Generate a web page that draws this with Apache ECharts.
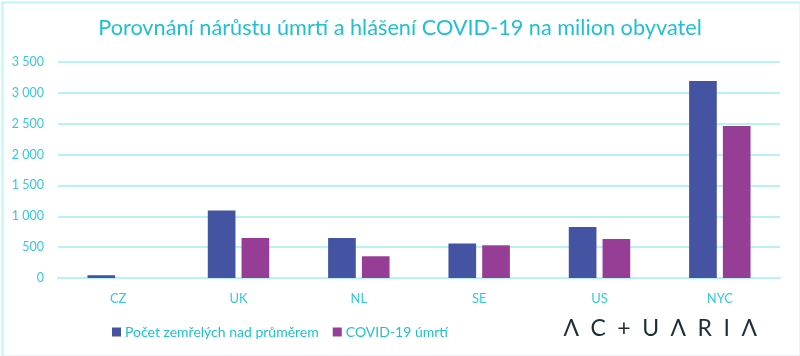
<!DOCTYPE html>
<html>
<head>
<meta charset="utf-8">
<script src="https://cdn.jsdelivr.net/npm/echarts@6/dist/echarts.min.js"></script>
<style>
html,body{margin:0;padding:0;background:#fff;}
#c{width:800px;height:356px;box-sizing:border-box;}
</style>
</head>
<body>
<div id="c"></div>
<script>
const categories = ["CZ", "UK", "NL", "SE", "US", "NYC"];
const excessDeaths = [45, 1095, 650, 558, 828, 3192];
const covidDeaths = [0, 649, 352, 530, 633, 2461];
const seriesNames = ["Počet zemřelých nad průměrem", "COVID-19 úmrtí"];
const titleText = "Porovnání nárůstu úmrtí a hlášení COVID-19 na milion obyvatel";
const logoText = "Λ\u2002C\u2002+\u2002U\u2002Λ\u2002R\u2002I\u2002Λ";

const chart = echarts.init(document.getElementById('c'), null, {renderer: 'canvas'});
const cyan = '#1fc0d6';
const gridCol = '#b9f1f9';
chart.setOption({
  animation: false,
  backgroundColor: '#fff',
  textStyle: {fontFamily: 'Lato'},
  title: {
    text: titleText,
    left: 'center',
    top: 12,
    textStyle: {color: cyan, fontSize: 21.7, fontWeight: 'normal', fontFamily: 'Lato'}
  },
  grid: {left: 58, right: 20, top: 62, bottom: 78, containLabel: false},
  legend: {
    left: 107,
    top: 320,
    icon: 'rect',
    itemWidth: 9,
    itemHeight: 9,
    itemGap: 14,
    textStyle: {color: cyan, fontSize: 14, fontFamily: 'Lato', padding: [0, 0, 0, -1]},
    data: seriesNames
  },
  xAxis: {
    type: 'category',
    data: categories,
    axisLine: {lineStyle: {color: gridCol, width: 2}},
    axisTick: {show: false},
    axisLabel: {color: '#33c9df', fontSize: 13, margin: 14}
  },
  yAxis: {
    type: 'value',
    min: 0,
    max: 3500,
    interval: 500,
    axisLine: {show: false},
    axisTick: {show: false},
    splitLine: {lineStyle: {color: gridCol, width: 2}},
    axisLabel: {
      color: '#33c9df', fontSize: 12.5, margin: 14,
      formatter: v => String(v).replace(/\B(?=(\d{3})+(?!\d))/g, ' ')
    }
  },
  series: [
    {name: seriesNames[0], type: 'bar', data: excessDeaths, barWidth: '23%', barGap: '22%',
     itemStyle: {color: '#4454a3'}},
    {name: seriesNames[1], type: 'bar', data: covidDeaths, barWidth: '23%',
     itemStyle: {color: '#963d96'}}
  ],
  graphic: [
    {type: 'rect', left: 0, top: 0, shape: {x: 1, y: 1, width: 798, height: 354},
     style: {fill: 'none', stroke: '#bff3fa', lineWidth: 2}, silent: true},
    {type: 'text', right: 43, top: 317,
     style: {text: logoText, fill: '#1c2f36', fontSize: 23, fontFamily: 'Lato', fontWeight: 'normal'}}
  ]
});
</script>
</body>
</html>
